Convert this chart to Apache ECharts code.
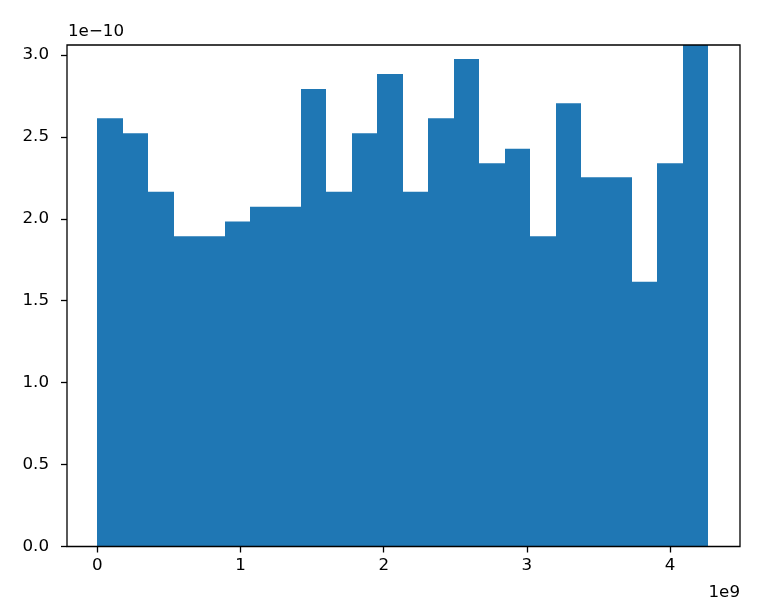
<!DOCTYPE html>
<html>
<head>
<meta charset="utf-8">
<script src="https://cdn.jsdelivr.net/npm/echarts@6/dist/echarts.min.js"></script>
<style>html,body{margin:0;padding:0;background:#fff}#c{width:768px;height:611px}</style>
</head>
<body>
<div id="c"></div>
<script>
// Histogram: 24 bins spanning 0 .. 4.267e9 (x in units of 1e9), density in units of 1e-10
const binStart = 0;
const binEnd = 4.267;
const densities = [2.614, 2.522, 2.166, 1.893, 1.893, 1.983, 2.074, 2.074, 2.793, 2.166, 2.522, 2.884,
                   2.166, 2.614, 2.976, 2.339, 2.428, 1.893, 2.705, 2.254, 2.254, 1.616, 2.339, 3.07];
const xTicks = [0, 1, 2, 3, 4];
const yTicks = [0, 0.5, 1.0, 1.5, 2.0, 2.5, 3.0];
const xOffsetText = '1e9';
const yOffsetText = '1e\u221210';

const nBins = densities.length;
const binW = (binEnd - binStart) / nBins;
const data = densities.map((d, i) => [binStart + i * binW, binStart + (i + 1) * binW, d]);

const font = 'DejaVu Sans';
const fs = 16.7;
const chart = echarts.init(document.getElementById('c'), null, {renderer: 'canvas'});
chart.setOption({
  animation: false,
  backgroundColor: '#fff',
  grid: {left: 67, right: 28, top: 45, bottom: 64.5, show: true, borderColor: '#000', borderWidth: 1.3, backgroundColor: 'transparent', z: 10},
  xAxis: {
    type: 'value', min: -0.2116, max: 4.488, z: 10,
    splitLine: {show: false},
    axisLine: {show: false, onZero: false},
    axisTick: {show: true, length: 6, customValues: xTicks, lineStyle: {color: '#000', width: 1.3}},
    axisLabel: {customValues: xTicks, color: '#000', fontFamily: font, fontSize: fs, margin: 11, formatter: v => String(Math.round(v))}
  },
  yAxis: {
    type: 'value', min: 0, max: 3.061, z: 10,
    splitLine: {show: false},
    axisLine: {show: false, onZero: false},
    axisTick: {show: true, length: 6, customValues: yTicks, lineStyle: {color: '#000', width: 1.3}},
    axisLabel: {customValues: yTicks, color: '#000', fontFamily: font, fontSize: fs, margin: 18, formatter: v => v.toFixed(1)}
  },
  graphic: [
    {type: 'text', x: 68, y: 32, style: {text: yOffsetText, font: fs + 'px ' + font, fill: '#000', textAlign: 'left', textVerticalAlign: 'middle'}},
    {type: 'text', x: 740, y: 593, style: {text: xOffsetText, font: fs + 'px ' + font, fill: '#000', textAlign: 'right', textVerticalAlign: 'middle'}}
  ],
  series: [{
    type: 'custom',
    clip: true,
    encode: {x: [0, 1], y: 2},
    data: data,
    renderItem: function (params, api) {
      const p0 = api.coord([api.value(0), api.value(2)]);
      const p1 = api.coord([api.value(1), 0]);
      const x0 = Math.round(p0[0]);
      const x1 = Math.round(p1[0]);
      const rect = echarts.graphic.clipRectByRect(
        {x: x0, y: p0[1], width: x1 - x0, height: p1[1] - p0[1]},
        {x: params.coordSys.x, y: params.coordSys.y, width: params.coordSys.width, height: params.coordSys.height}
      );
      if (!rect) return null;
      return {type: 'rect', shape: rect, style: {fill: '#1f77b4'}};
    }
  }]
});
</script>
</body>
</html>
